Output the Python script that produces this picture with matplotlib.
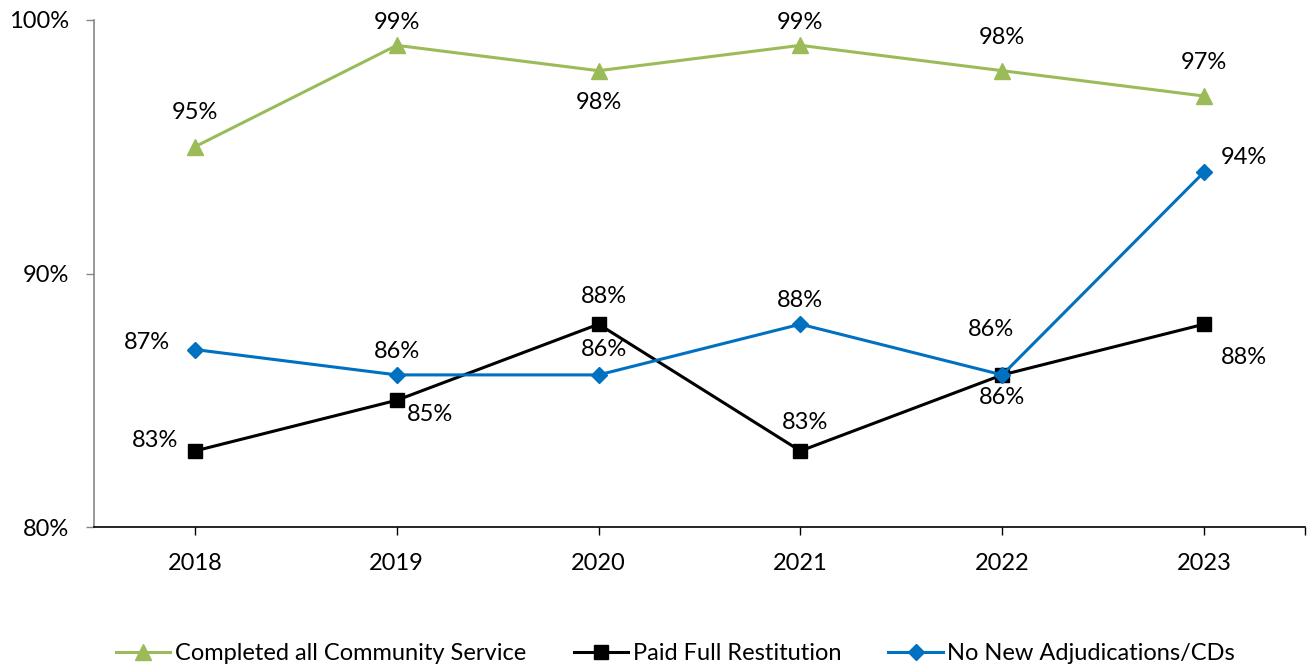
import matplotlib
matplotlib.use("Agg")
import matplotlib.pyplot as plt

years = ["2018", "2019", "2020", "2021", "2022", "2023"]
community_service = [95, 99, 98, 99, 98, 97]
restitution = [83, 85, 88, 83, 86, 88]
no_new_adjudications = [87, 86, 86, 88, 86, 94]
y_ticks = [80, 90, 100]

plt.rcParams['font.family'] = ['Lato', 'DejaVu Sans']
FS = 17

fig = plt.figure(figsize=(13.12, 6.71), dpi=100)
ax = fig.add_axes([94 / 1312, 1 - 527 / 671, (1305 - 94) / 1312, (527 - 20) / 671])

x = list(range(len(years)))
green, blue = '#9BBB59', '#0070C0'
ax.plot(x, community_service, color=green, lw=2.2, marker='^', ms=12,
        label='Completed all Community Service', clip_on=False)
ax.plot(x, restitution, color='black', lw=2.2, marker='s', ms=10,
        label='Paid Full Restitution', clip_on=False)
ax.plot(x, no_new_adjudications, color=blue, lw=2.2, marker='D', ms=8,
        label='No New Adjudications/CDs', clip_on=False)

# label offsets in pixels (dx, dy) for each point
green_off = [(0, 34), (0, 23), (0, -32), (0, 23), (0, 33), (0, 34)]
black_off = [(-40, 10), (33, -14), (5, 28), (5, 28), (0, -23), (40, -33)]
blue_off = [(-48, 7), (0, 23), (5, 25), (0, 24), (-11, 45), (40, 15)]

for series, offs in ((community_service, green_off), (restitution, black_off),
                     (no_new_adjudications, blue_off)):
    for xi, v, (dx, dy) in zip(x, series, offs):
        ax.annotate(f"{v}%", (xi, v), xytext=(dx, dy), textcoords='offset pixels',
                    ha='center', va='center', fontsize=FS, color='black')

ax.set_xlim(-0.5, 5.5)
ax.set_ylim(80, 100)
ax.set_yticks(y_ticks)
ax.set_yticklabels([f"{t}%" for t in y_ticks])
ax.set_xticks(x + [5.5])
ax.set_xticklabels(years + [""])
ax.tick_params(axis='x', length=6, width=1, color='black', labelsize=FS, pad=13)
ax.tick_params(axis='y', length=6, width=1, color='#868686', labelsize=FS, pad=12)

for s in ('top', 'right'):
    ax.spines[s].set_visible(False)
ax.spines['left'].set_color('#868686')
ax.spines['left'].set_linewidth(1.2)
ax.spines['bottom'].set_color('black')
ax.spines['bottom'].set_linewidth(1.2)

fig.legend(loc='center', bbox_to_anchor=(0.515, 1 - 654 / 671), ncol=3, frameon=False,
           fontsize=FS, handlelength=2.3, handletextpad=0.2, columnspacing=2.0)

fig.savefig('out.png', dpi=100)
